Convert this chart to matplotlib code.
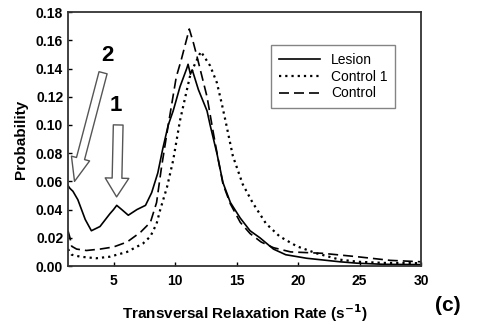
import matplotlib
matplotlib.use('Agg')
import matplotlib.pyplot as plt

plt.rcParams['font.family'] = ['Liberation Sans', 'DejaVu Sans']

# Lesion (solid)
lesion_x = [1.3, 1.46, 1.7, 2.1, 2.7, 3.2, 3.9, 4.7, 5.0, 5.26, 5.67, 6.2, 6.9, 7.6, 8.1, 8.6, 9.0, 9.45,
            9.85, 10.4, 10.95, 11.06, 11.25, 11.4, 11.9, 12.6, 12.85, 13.4, 13.9, 14.5, 15.3, 16.1, 16.9,
            18.0, 19.0, 20.7, 23.4, 24.8, 27.0, 30.0]
lesion_y = [0.057, 0.055, 0.053, 0.047, 0.033, 0.025, 0.028, 0.037, 0.040, 0.043, 0.040, 0.036, 0.040,
            0.043, 0.052, 0.066, 0.083, 0.100, 0.110, 0.127, 0.140, 0.143, 0.136, 0.139, 0.125, 0.110,
            0.100, 0.080, 0.059, 0.045, 0.034, 0.025, 0.020, 0.012, 0.008, 0.0055, 0.003, 0.002, 0.0012, 0.001]

# Control 1 (dotted)
control1_x = [1.3, 1.6, 2.3, 3.6, 4.7, 6.1, 7.4, 8.0, 8.5, 8.8, 9.35, 9.85, 10.4, 11.2, 11.5, 12.1,
              12.85, 13.4, 13.8, 14.1, 14.7, 15.5, 16.3, 17.4, 18.5, 19.9, 21.5, 23.4, 24.9, 27.0, 30.0]
control1_y = [0.012, 0.008, 0.0066, 0.0055, 0.0066, 0.010, 0.016, 0.021, 0.030, 0.040, 0.056, 0.075,
              0.103, 0.134, 0.141, 0.152, 0.142, 0.130, 0.115, 0.103, 0.078, 0.058, 0.045, 0.030, 0.021,
              0.014, 0.009, 0.0045, 0.003, 0.0022, 0.002]

# Control (dashed)
control_x = [1.3, 1.46, 1.6, 2.0, 2.8, 3.9, 5.0, 6.1, 7.2, 8.0, 8.5, 8.9, 9.45, 10.1, 10.5, 11.16, 11.5,
             11.8, 12.2, 12.6, 13.1, 13.5, 13.9, 14.5, 15.3, 16.1, 17.0, 18.0, 19.4, 22.0, 24.8, 27.5, 30.0]
control_y = [0.025, 0.020, 0.014, 0.012, 0.011, 0.012, 0.0135, 0.017, 0.024, 0.031, 0.045, 0.070, 0.100,
             0.134, 0.146, 0.168, 0.158, 0.148, 0.134, 0.120, 0.095, 0.076, 0.058, 0.044, 0.031, 0.023,
             0.017, 0.013, 0.010, 0.009, 0.0066, 0.004, 0.003]

xticks = [5, 10, 15, 20, 25, 30]
yticks = [0.00, 0.02, 0.04, 0.06, 0.08, 0.10, 0.12, 0.14, 0.16, 0.18]

fig = plt.figure(figsize=(4.84, 3.27), dpi=100)
ax = fig.add_axes([0.1405, 0.1865, 0.7295, 0.7765])

ax.plot(lesion_x, lesion_y, color='black', lw=1.2, ls='-', label='Lesion')
ax.plot(control1_x, control1_y, color='black', lw=1.6, ls=(0, (1, 1.8)), label='Control 1')
ax.plot(control_x, control_y, color='black', lw=1.2, ls=(0, (6, 3)), label='Control')

ax.set_xlim(1.3, 30)
ax.set_ylim(0, 0.18)
ax.set_xticks(xticks)
ax.set_yticks(yticks)
ax.set_yticklabels([f'{v:.2f}' for v in yticks])
ax.tick_params(direction='in', length=3, labelsize=10, width=1)
ax.tick_params(axis='x', pad=6)
for lab in ax.get_xticklabels() + ax.get_yticklabels():
    lab.set_fontweight('bold')
for s in ax.spines.values():
    s.set_linewidth(1.3)
    s.set_color('#333333')

ax.set_xlabel('Transversal Relaxation Rate (s$^{\\mathbf{-1}}$)', fontsize=11, fontweight='bold', labelpad=10)
ax.set_ylabel('Probability', fontsize=11, fontweight='bold', labelpad=6)

leg = ax.legend(loc='upper left', bbox_to_anchor=(0.555, 0.897), fontsize=10, frameon=True,
                fancybox=False, handlelength=3.0, borderpad=0.55, labelspacing=0.2, handletextpad=0.8)
leg.get_frame().set_edgecolor('#666666')
leg.get_frame().set_linewidth(1.0)

ax.annotate('', xy=(5.25, 0.049), xytext=(5.38, 0.100),
            arrowprops=dict(arrowstyle='simple,head_length=1.35,head_width=1.7,tail_width=0.7',
                            fc='white', ec='#555555', lw=1.0, mutation_scale=10, shrinkA=0, shrinkB=0))
ax.annotate('', xy=(1.83, 0.060), xytext=(4.15, 0.137),
            arrowprops=dict(arrowstyle='simple,head_length=1.7,head_width=1.35,tail_width=0.6',
                            fc='white', ec='#555555', lw=1.0, mutation_scale=10, shrinkA=0, shrinkB=0))
ax.text(5.2, 0.106, '1', fontsize=16, fontweight='bold', ha='center', va='bottom')
ax.text(4.5, 0.142, '2', fontsize=16, fontweight='bold', ha='center', va='bottom')

fig.text(0.926, 0.067, '(c)', fontsize=15, fontweight='bold', ha='center', va='center')

fig.savefig('out.png', dpi=100)
